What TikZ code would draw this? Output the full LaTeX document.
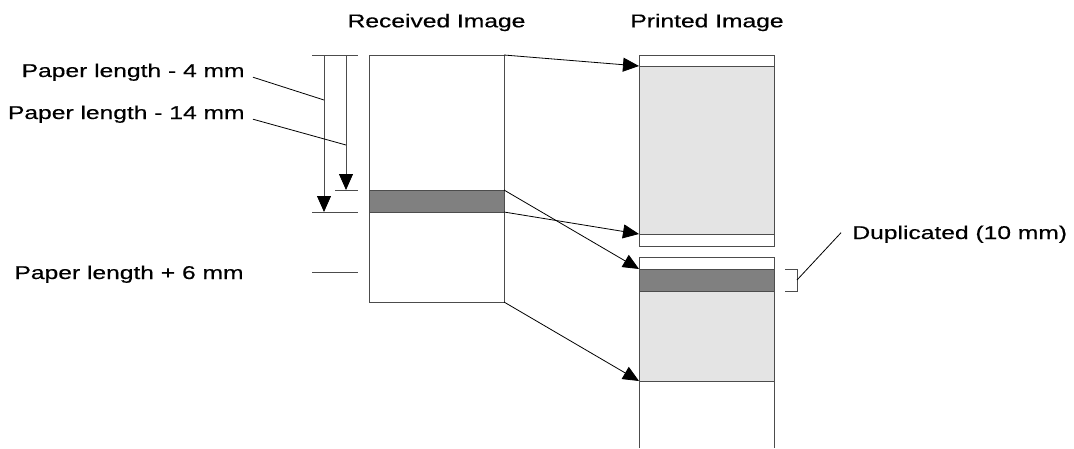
\documentclass[tikz,border=0pt]{standalone}
\usepackage{fontspec}
\setmainfont[FakeBold=0.4]{Liberation Sans}
\usetikzlibrary{arrows.meta}
\definecolor{lightband}{HTML}{E4E4E4}
\definecolor{darkband}{HTML}{808080}
\newcommand{\wtext}[1]{\scalebox{1.33}[1]{#1}}
\begin{document}
\begin{tikzpicture}[x=1pt, y=-1pt, >={Triangle[length=16pt,width=14pt,color=black]},
  line width=0.8pt, font=\fontsize{18.5}{21}\selectfont,
  lbl/.style={inner sep=0pt},
  box/.style={draw=black!70, line width=1pt}]
  \useasboundingbox (0,0) rectangle (1074,448);
  % titles
  \node[lbl, anchor=base] (recv) at (436.5,27.3) {\wtext{Received Image}};
  \node[lbl, anchor=base] (prnt) at (707,27.3) {\wtext{Printed Image}};
  % bands
  \fill[lightband] (639,66) rectangle (774,234);
  \fill[lightband] (639,291) rectangle (774,381);
  \fill[darkband] (369,190) rectangle (504,212);
  \fill[darkband] (639,269) rectangle (774,291);
  % received image
  \draw[box] (369,55) rectangle (504,302);
  \draw[box] (369,190) -- (504,190) (369,212) -- (504,212);
  % printed image
  \draw[box] (639,55) rectangle (774,246);
  \draw[box] (639,66) -- (774,66) (639,234) -- (774,234);
  \draw[box] (639,448) |- (774,257) -- (774,448);
  \draw[box] (639,269) -- (774,269) (639,291) -- (774,291) (639,381) -- (774,381);
  % connectors
  \coordinate (rTop) at (504,55);
  \coordinate (rBandT) at (504,190);
  \coordinate (rBandB) at (504,212);
  \coordinate (rBot) at (504,302);
  \coordinate (pTop) at (639,66);
  \coordinate (pBot) at (639,234);
  \coordinate (dTop) at (639,269);
  \coordinate (dBot) at (639,381);
  \path[->]
    (rTop)   edge (pTop)
    (rBandB) edge (pBot)
    (rBandT) edge (dTop)
    (rBot)   edge (dBot);
  % dimensions
  \draw[black!70] (312,55) -- (358,55) (335,190) -- (358,190)
    (312,212) -- (358,212) (312,272) -- (358,272);
  \coordinate (legA) at (324,100);
  \coordinate (legB) at (346,145);
  \draw[->, black!70] (324,55) -- (324,212);
  \draw[->, black!70] (346,55) -- (346,190);
  % labels
  \node[lbl, anchor=base east] (lenA) at (245,77) {\wtext{Paper length - 4 mm}};
  \node[lbl, anchor=base east] (lenB) at (245,119) {\wtext{Paper length - 14 mm}};
  \node[lbl, anchor=base east] (lenC) at (244,279) {\wtext{Paper length + 6 mm}};
  \draw ([shift={(8,5)}]lenA.east) -- (legA);
  \draw ([shift={(8,5)}]lenB.east) -- (legB);
  % duplicated part
  \draw[black!70] (785,269) -- (797,269) -- (797,291) -- (785,291);
  \coordinate (brk) at (797,280);
  \node[lbl, anchor=base west] (dup) at (852,239) {\wtext{Duplicated (10 mm)}};
  \draw (brk) -- ([shift={(-11,-1.5)}]dup.west);
\end{tikzpicture}
\end{document}
